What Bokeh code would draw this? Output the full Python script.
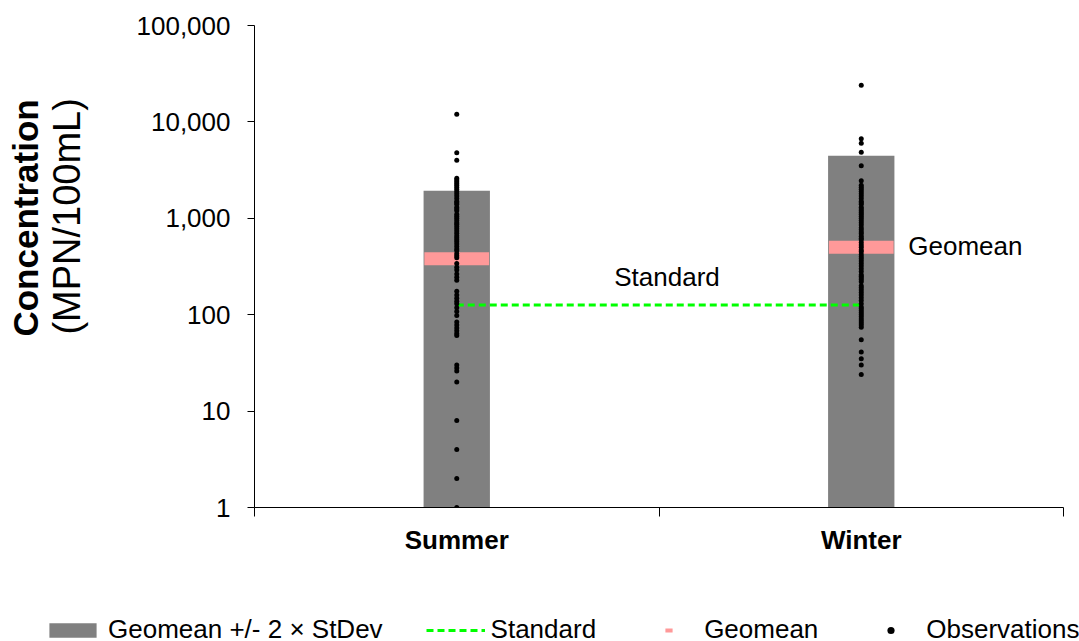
import math

from bokeh.plotting import figure
from bokeh.layouts import column, row
from bokeh.models import (Range1d, FixedTicker, NumeralTickFormatter, Label,
                          Legend, LegendItem)
from bokeh.embed import file_html
from bokeh.resources import INLINE

# ---- data -------------------------------------------------------------
categories = ["Summer", "Winter"]
geomean = [380, 500]                 # MPN/100mL
upper = [1930, 4450]                 # geomean + 2 x stdev
standard = 126                       # single-sample standard
y_ticks = [1, 10, 100, 1000, 10000, 100000]

summer_obs = [12000, 4800, 4000,
              2600, 2500, 2400, 2300, 2200, 2100, 2000, 1900, 1800, 1700,
              1600, 1500, 1450, 1400, 1300, 1250, 1200, 1100, 1050, 1000,
              950, 900, 870, 820, 780, 740, 700, 660, 630, 600, 570, 540,
              510, 480, 460, 430, 410, 390,
              340, 310, 290, 265, 245, 228,
              175, 160, 148, 138, 130,
              118, 108, 98,
              84, 78, 73, 68, 64, 61,
              30, 28, 26, 20, 8, 4, 2, 1]

winter_obs = [24000, 6700, 6000, 4850, 3500, 2450,
              2200, 2100, 2000, 1900, 1800, 1700, 1600, 1500, 1450, 1400,
              1300, 1250, 1200, 1150, 1100, 1050, 1000, 950, 900, 850, 800,
              760, 720, 690, 650, 620, 600, 560, 530, 500, 470, 450, 420,
              400, 380, 360, 340, 320, 300, 280, 260, 250, 240, 230, 220,
              200, 190, 180, 170, 160, 150, 140, 130, 120, 115, 110, 105,
              100, 95, 90, 86, 82, 78, 74,
              55, 41, 35, 30, 24]

observations = [summer_obs, winter_obs]

# ---- layout / style ---------------------------------------------------
FONT = "Liberation Sans"
W, H = 1079, 641
TITLE_W = 100                 # strip holding the y-axis title
LEGEND_H = 50                 # strip holding the legend
MAIN_W, MAIN_H = W - TITLE_W, H - LEGEND_H
FRAME_L, FRAME_R, FRAME_T, FRAME_B = 254, 1063, 25, 507   # page pixels
GRAY, GREEN, PINK = "#808080", "#00FF00", "#FF9999"
NAN = float("nan")

xpos = [i + 0.5 for i in range(len(categories))]
y_floor = y_ticks[0]


def blank(width, height):
    f = figure(width=width, height=height,
               x_range=Range1d(0, width), y_range=Range1d(0, height),
               output_backend="svg", toolbar_location=None,
               x_axis_location=None, y_axis_location=None,
               min_border=0)
    f.outline_line_color = None
    f.grid.visible = False
    return f


# ---- main chart -------------------------------------------------------
p = figure(width=MAIN_W, height=MAIN_H,
           x_range=Range1d(0, len(categories)),
           y_range=Range1d(y_ticks[0], y_ticks[-1]),
           y_axis_type="log",
           output_backend="svg", toolbar_location=None,
           min_border_left=FRAME_L - TITLE_W, min_border_right=W - FRAME_R,
           min_border_top=FRAME_T, min_border_bottom=MAIN_H - FRAME_B)
p.outline_line_color = None
p.grid.visible = False

# range bars
bars = p.vbar(x=xpos, top=upper, bottom=y_floor, width=0.164,
              fill_color=GRAY, line_color=None)

# standard line between the two seasons
std_line = p.line(x=xpos, y=[standard] * len(xpos), line_color=GREEN,
                  line_width=3, line_dash="7 4")

# geomean markers
gm = p.rect(x=xpos, y=geomean, width=0.16, height=13, height_units="screen",
            fill_color=PINK, line_color=None)

# individual observations
obs_x = [xpos[i] for i, vals in enumerate(observations) for _ in vals]
obs_y = [v for vals in observations for v in vals]
dots = p.scatter(x=obs_x, y=obs_y, size=5, marker="circle",
                 fill_color="black", line_color=None)

# x axis: category names at band centres, ticks at band edges
xa = p.xaxis[0]
xa.ticker = FixedTicker(ticks=xpos, minor_ticks=list(range(len(categories) + 1)))
overrides = {}
for xv, name in zip(xpos, categories):
    overrides[xv] = name
    overrides[str(xv)] = name
xa.major_label_overrides = overrides
xa.major_tick_out = 0
xa.major_tick_in = 0
xa.minor_tick_out = 9
xa.minor_tick_in = 0
xa.minor_tick_line_color = "black"
xa.axis_line_color = "black"
xa.major_label_text_font = FONT
xa.major_label_text_font_size = "26px"
xa.major_label_text_font_style = "bold"
xa.major_label_text_color = "black"
xa.major_label_standoff = 8

# y axis: decades with thousands separators
ya = p.yaxis[0]
ya.ticker = FixedTicker(ticks=y_ticks, minor_ticks=[])
ya.formatter = NumeralTickFormatter(format="0,0")
ya.major_tick_out = 7
ya.major_tick_in = 0
ya.minor_tick_line_color = None
ya.major_tick_line_color = "black"
ya.axis_line_color = "black"
ya.major_label_text_font = FONT
ya.major_label_text_font_size = "26px"
ya.major_label_text_color = "black"
ya.major_label_standoff = 17

# in-plot annotations
p.add_layout(Label(x=sum(xpos) / len(xpos), y=standard, x_offset=8, y_offset=28,
                   text="Standard", text_align="center", text_baseline="middle",
                   text_font=FONT, text_font_size="26px", text_color="black"))
p.add_layout(Label(x=xpos[-1], y=geomean[-1], x_offset=47, y_offset=1,
                   text="Geomean", text_align="left", text_baseline="middle",
                   text_font=FONT, text_font_size="26px", text_color="black"))

# ---- y-axis title strip -----------------------------------------------
t = blank(TITLE_W, MAIN_H)
t.add_layout(Label(x=24.5, y=MAIN_H - 236, text="Concentration", angle=math.pi / 2,
                   text_align="center", text_baseline="middle",
                   text_font=FONT, text_font_size="35px", text_font_style="bold",
                   text_color="black"))
t.add_layout(Label(x=66, y=MAIN_H - 234, text="(MPN/100mL)", angle=math.pi / 2,
                   text_align="center", text_baseline="middle",
                   text_font=FONT, text_font_size="38px",
                   text_color="black"))

# ---- legend strip -----------------------------------------------------
# key glyphs carry a single NaN point: nothing is drawn, only the legend swatch
lg = blank(W, LEGEND_H)
k_bar = lg.vbar(x=[NAN], top=[NAN], bottom=[NAN], width=1,
                fill_color=GRAY, line_color=None)
k_std = lg.line(x=[NAN], y=[NAN], line_color=GREEN, line_width=3, line_dash="7 4")
k_gm = lg.scatter(x=[NAN], y=[NAN], marker="dash", line_color=PINK, line_width=4)
k_obs = lg.scatter(x=[NAN], y=[NAN], marker="circle", fill_color="black",
                   line_color=None)

legend = Legend(items=[LegendItem(label="Geomean +/- 2 \u00d7 StDev", renderers=[k_bar]),
                       LegendItem(label="Standard", renderers=[k_std]),
                       LegendItem(label="Geomean", renderers=[k_gm]),
                       LegendItem(label="Observations", renderers=[k_obs])],
                location=(43, -4), orientation="horizontal",
                glyph_width=59, glyph_height=18, label_standoff=6,
                spacing=43, padding=0, margin=0,
                border_line_color=None, background_fill_alpha=0,
                label_text_font=FONT, label_text_font_size="26px",
                label_text_color="black")
lg.add_layout(legend, "center")

layout = column(row(t, p), lg)
open("out.html", "w").write(file_html(layout, INLINE))
